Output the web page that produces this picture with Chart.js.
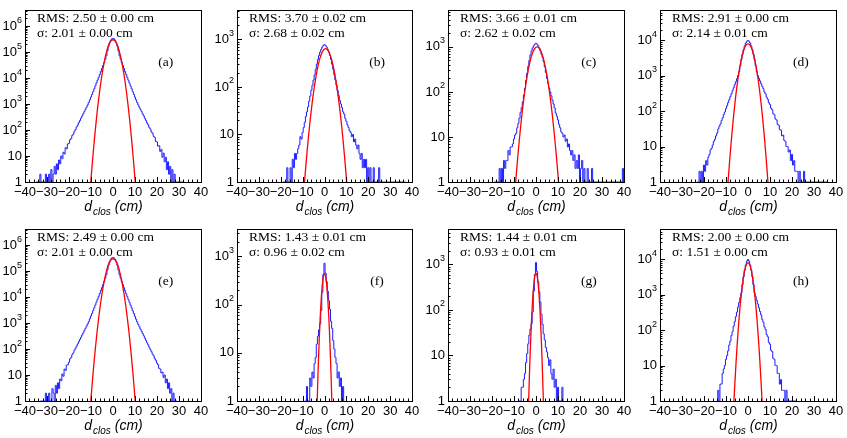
<!DOCTYPE html>
<html><head><meta charset="utf-8">
<script src="https://cdn.jsdelivr.net/npm/chart.js@4.4.1/dist/chart.umd.min.js"></script>
<style>
html,body{margin:0;padding:0;background:#fff;}
#wrap{position:relative;width:847px;height:438px;overflow:hidden;background:#fff;}
#wrap canvas{position:absolute;left:0;top:0;}
</style></head><body><div id="wrap"></div>
<script>
// ---------------- data ----------------
const panelLetters = ['(a)','(b)','(c)','(d)','(e)','(f)','(g)','(h)'];
const rmsTexts = ['RMS: 2.50 \u00b1 0.00 cm','RMS: 3.70 \u00b1 0.02 cm','RMS: 3.66 \u00b1 0.01 cm','RMS: 2.91 \u00b1 0.00 cm',
                  'RMS: 2.49 \u00b1 0.00 cm','RMS: 1.43 \u00b1 0.01 cm','RMS: 1.44 \u00b1 0.01 cm','RMS: 2.00 \u00b1 0.00 cm'];
const sigmaTexts = ['\u03c3: 2.01 \u00b1 0.00 cm','\u03c3: 2.68 \u00b1 0.02 cm','\u03c3: 2.62 \u00b1 0.02 cm','\u03c3: 2.14 \u00b1 0.01 cm',
                    '\u03c3: 2.01 \u00b1 0.00 cm','\u03c3: 0.96 \u00b1 0.02 cm','\u03c3: 0.93 \u00b1 0.01 cm','\u03c3: 1.51 \u00b1 0.00 cm'];
const xTickValues = [-40,-30,-20,-10,0,10,20,30,40];
const yMaxValues = [4.2e6, 4170, 6600, 7.1e4, 4.2e6, 3700, 6000, 7.1e4];
const BIN_WIDTH = 0.5;
const histStart = [-35, -19, -19, -23, -33, -9, -8, -14];

const histA = [
 1,0,1,0,2,0,1,1,0,2,
 1,0,2,1,3,1,2,4,2,5,
 3,7,5,10,8,14,12,21,19,29,
 31,42,47,62,70,90,105,132,156,195,
 232,287,345,424,511,626,757,935,1148,1462,
 1858,2372,3018,3892,5010,6460,8320,10700,13800,18000,
 23400,30500,39800,53700,72400,112000,170000,230000,285000,324000,
 339000,324000,285000,230000,170000,112000,72400,53700,39800,30500,
 23400,18000,13800,10700,8320,6460,5010,3890,3020,2370,
 1860,1460,1150,930,762,620,516,419,350,282,
 237,190,161,127,110,85,75,57,52,37,
 35,24,25,15,18,9,13,6,9,3,
 6,2,4,1,3,0,2,1,0,1,
 0,1,0,0,1];
const histB = [
 1,1,0,1,2,0,1,2,1,3,
 2,4,3,4,5,6,9,8,11,14,
 18,24,30,38,50,64,85,108,140,180,
 235,300,380,460,540,620,690,750,780,750,
 690,620,540,460,380,300,235,180,140,108,
 85,66,52,44,37,30,27,22,19,16,
 14,12,11,9,10,7,8,6,5,6,
 4,3,4,2,3,2,3,1,2,1,
 2,1,0,2,1,0,1,1,2,0,
 1,0,1,0,1,0,0,1,0,0,
 1,0,0,0,1,0,0,0,0,0,
 1,0,1];
const histC = [
 1,0,1,1,0,2,1,2,1,3,
 2,3,3,5,4,6,6,7,9,11,
 12,16,20,26,35,45,60,85,120,180,
 260,370,500,660,820,950,1060,1150,1200,1150,
 1060,950,820,690,590,470,360,270,200,155,
 122,100,82,66,54,44,34,29,24,19,
 16,13,12,10,11,8,9,6,7,5,
 4,5,3,4,2,3,2,4,1,2,
 3,1,2,1,0,2,1,0,1,2,
 0,1,0,1,0,0,1,0,0,0,
 0,1,0,0,0,0,0,0,1,0,
 0,0,0,0,1,0,1,2,1];
const histD = [
 1,0,2,1,2,1,3,2,4,3,
 5,6,8,9,11,14,16,20,24,31,
 37,43,54,64,80,94,117,140,173,208,
 255,308,377,456,557,675,822,1000,1300,1900,
 2800,4000,5400,6900,8300,9300,9800,9300,8300,6900,
 5400,4000,2800,1900,1300,1000,841,708,596,501,
 428,349,305,246,216,172,155,121,110,85,
 79,60,56,42,40,30,29,20,21,15,
 14,10,10,7,8,4,6,3,4,2,
 2,2,1,2,1,0,1,2,0,1,
 0,1,0,0,1,0,0,0,0,0,
 0,0,0,0,0,0,0,1,0];
const histE = [
 1,0,0,1,0,2,0,1,2,1,
 1,3,2,1,4,2,5,3,7,6,
 11,9,17,15,24,25,31,42,47,61,
 71,90,106,131,158,192,235,284,348,421,
 514,622,760,930,1152,1458,1862,2368,3022,3888,
 5010,6460,8320,10700,13800,18000,23400,30500,39800,53700,
 72400,112000,170000,230000,285000,324000,336000,322000,283000,228000,
 168000,111000,71800,53200,39400,30100,23100,17700,13600,10500,
 8180,6340,4900,3800,2940,2300,1800,1410,1110,890,
 728,592,488,398,326,265,218,176,146,118,
 97,80,64,55,43,37,29,25,18,17,
 12,13,8,10,5,7,3,5,2,3,
 1,2,0,1,1];
const histF = [
 1,0,2,0,1,3,2,4,3,6,
 8,15,22,30,40,75,180,420,720,450,
 300,190,120,80,45,32,18,12,8,6,
 3,4,2,3,1,2,1];
const histG = [
 1,1,0,2,2,3,4,7,11,18,
 28,38,50,90,260,600,1100,700,420,250,
 150,80,48,30,22,15,12,9,6,8,
 4,3,5,2,3,1,2,0,1,0,
 2,0];
const histH = [
 1,2,0,3,3,6,8,10,15,19,
 26,38,49,70,91,129,172,240,322,445,
 600,820,1120,1900,3200,4900,6900,8800,9800,8800,
 6900,4900,3200,1900,1120,881,692,543,427,335,
 268,201,166,122,104,75,65,45,40,27,
 25,16,15,10,10,6,6,3,4,2,
 2,2,1,2,0,1,0,0,0,0,
 0,1,0];

const fitStart = [-10.5, -10, -10, -10, -10.5, -3.75, -3.75, -7];
const fitStep  = [0.5, 0.5, 0.5, 0.5, 0.5, 0.25, 0.25, 0.5];
const fitA = [0.36,1.27,4.2,13.3,39.3,109,284,698,1609,3490,7100,13590,24480,41400,65900,98500,138400,182900,227000,265100,290900,
 300000,290900,265100,227000,182900,138400,98500,65900,41400,24480,13590,7100,3490,1609,698,284,109,39.3,13.3,4.2,1.27,0.36];
const fitB = [0.296,0.605,1.19,2.27,4.18,7.42,12.7,21.1,33.8,52.2,77.9,112,156,210,273,342,414,484,547,597,629,
 640,629,597,547,484,414,342,273,210,156,112,77.9,52.2,33.8,21.1,12.7,7.42,4.18,2.27,1.19,0.605,0.296];
const fitC = [0.32,0.687,1.40,2.74,5.19,9.46,16.6,28.2,46.1,72.6,110,162,229,312,410,519,634,747,849,930,982,
 1000,982,930,849,747,634,519,410,312,229,162,110,72.6,46.1,28.2,16.6,9.46,5.19,2.74,1.40,0.687,0.32];
const fitD = [0.143,0.416,1.14,2.96,7.28,17.0,37.5,78.4,155,291,516,866,1377,2074,2957,3993,5104,6179,7083,7687,
 7900,7687,7083,6179,5104,3993,2957,2074,1377,866,516,291,155,78.4,37.5,17.0,7.28,2.96,1.14,0.416,0.143];
const fitE = [0.36,1.27,4.2,13.3,39.3,109,284,698,1609,3490,7100,13590,24480,41400,65900,98500,138400,182900,227000,265100,290900,
 300000,290900,265100,227000,182900,138400,98500,65900,41400,24480,13590,7100,3490,1609,698,284,109,39.3,13.3,4.2,1.27,0.36];
const fitF = [0.21,0.571,1.43,3.33,7.26,14.8,28.2,50.2,83.5,130,188,256,324,384,425,
 440,425,384,324,256,188,130,83.5,50.2,28.2,14.8,7.26,3.33,1.43,0.571,0.21];
const fitG = [0.19,0.54,1.43,3.52,8.08,17.3,34.3,63.4,109,174,259,359,462,554,617,
 640,617,554,462,359,259,174,109,63.4,34.3,17.3,8.08,3.52,1.43,0.54,0.19];
const fitH = [0.17,0.749,2.95,10.4,32.9,93.1,236,538,1098,2007,3286,4823,6344,7479,
 7900,7479,6344,4823,3286,2007,1098,538,236,93.1,32.9,10.4,2.95,0.749,0.17];

const histograms = [histA,histB,histC,histD,histE,histF,histG,histH];
const fits = [fitA,fitB,fitC,fitD,fitE,fitF,fitG,fitH];

// ---------------- layout (pixels) ----------------
const W = 847, H = 438;
const frameLeft = [25, 237, 448, 660];
const frameRight = [201, 412, 624, 836];
const frameTop = [10, 229];
const frameBottom = [182, 401];
const X_MIN = -40, X_MAX = 40, X_MAJOR = 10, X_MINOR = 2, Y_MIN = 1;

const SANS = '"Liberation Sans", Arial, Helvetica, sans-serif';
const SERIF = '"Liberation Serif", "Times New Roman", Times, serif';

function drawDecor(chart, info) {
  const ctx = chart.ctx, a = chart.chartArea;
  const xs = chart.scales.x, ys = chart.scales.y;
  const L = Math.round(a.left), R = Math.round(a.right), T = Math.round(a.top), B = Math.round(a.bottom);
  ctx.save();
  ctx.strokeStyle = '#000'; ctx.lineWidth = 1;
  ctx.strokeRect(L + 0.5, T + 0.5, R - L, B - T);
  ctx.beginPath();
  for (let v = X_MIN; v <= X_MAX + 1e-9; v += X_MINOR) {
    const px = Math.round(xs.getPixelForValue(v)) + 0.5;
    const len = Math.abs(v % X_MAJOR) < 1e-9 ? 5 : 2.5;
    ctx.moveTo(px, B); ctx.lineTo(px, B - len);
  }
  const yMax = ys.max;
  for (let d = 0; Math.pow(10, d) <= yMax; d++) {
    for (let m = 1; m <= 9; m++) {
      const v = m * Math.pow(10, d);
      if (v > yMax) break;
      const py = Math.round(ys.getPixelForValue(v)) + 0.5;
      const len = m === 1 ? 5 : 2.5;
      ctx.moveTo(L, py); ctx.lineTo(L + len, py);
    }
  }
  ctx.stroke();

  ctx.fillStyle = '#000';
  ctx.font = '13px ' + SANS;
  ctx.textAlign = 'center'; ctx.textBaseline = 'top';
  xTickValues.forEach(v => {
    const s = v < 0 ? '\u2212' + (-v) : String(v);
    ctx.fillText(s, xs.getPixelForValue(v), B + 4);
  });
  ctx.textAlign = 'right'; ctx.textBaseline = 'middle';
  for (let d = 0; Math.pow(10, d) <= yMax; d++) {
    const py = ys.getPixelForValue(Math.pow(10, d));
    const xr = L - 3;
    if (d === 0) { ctx.font = '13px ' + SANS; ctx.fillText('1', xr, py); }
    else if (d === 1) { ctx.font = '13px ' + SANS; ctx.fillText('10', xr, py); }
    else {
      ctx.font = '9px ' + SANS;
      const sw = ctx.measureText(String(d)).width;
      ctx.fillText(String(d), xr, py - 6);
      ctx.font = '13px ' + SANS;
      ctx.fillText('10', xr - sw, py);
    }
  }
  ctx.textAlign = 'left'; ctx.textBaseline = 'alphabetic';
  ctx.font = 'italic 14px ' + SANS; const wd = ctx.measureText('d').width;
  ctx.font = 'italic 10px ' + SANS; const wc = ctx.measureText('clos').width;
  ctx.font = 'italic 14px ' + SANS; const wr = ctx.measureText(' (cm)').width;
  let x0 = (L + R) / 2 - (wd + wc + wr) / 2;
  const by = B + 28.5;
  ctx.font = 'italic 14px ' + SANS; ctx.fillText('d', x0, by);
  ctx.font = 'italic 10px ' + SANS; ctx.fillText('clos', x0 + wd + 1, by + 4);
  ctx.font = 'italic 14px ' + SANS; ctx.fillText(' (cm)', x0 + wd + wc + 1, by);
  ctx.font = '13.5px ' + SERIF;
  ctx.fillText(info.rms, L + 12, T + 11.5);
  ctx.fillText(info.sigma, L + 12, T + 26.5);
  ctx.textAlign = 'center';
  ctx.fillText(info.letter, L + 0.8 * (R - L), T + 56);
  ctx.restore();
}

const decorPlugin = {
  id: 'decor',
  afterDraw(chart, args, opts) { drawDecor(chart, opts.info); }
};

const wrap = document.getElementById('wrap');
for (let i = 0; i < 8; i++) {
  const col = i % 4, row = Math.floor(i / 4);
  const canvas = document.createElement('canvas');
  canvas.width = W; canvas.height = H;
  canvas.style.width = W + 'px'; canvas.style.height = H + 'px';
  wrap.appendChild(canvas);
  const histPts = histograms[i].map((c, k) => ({ x: histStart[i] + k * BIN_WIDTH, y: Math.max(c, Y_MIN) }));
  const fitPts = fits[i].map((v, k) => ({ x: fitStart[i] + k * fitStep[i], y: v }));
  new Chart(canvas, {
    type: 'line',
    data: {
      datasets: [
        { data: fitPts, borderColor: '#ff0000', borderWidth: 1.3, pointRadius: 0, fill: false,
          cubicInterpolationMode: 'monotone' },
        { data: histPts, borderColor: '#1a1aff', borderWidth: 1, pointRadius: 0, fill: false,
          stepped: 'middle' }
      ]
    },
    options: {
      responsive: false, animation: false, events: [],
      layout: { padding: { left: frameLeft[col], right: W - frameRight[col], top: frameTop[row], bottom: H - frameBottom[row] } },
      scales: {
        x: { type: 'linear', min: X_MIN, max: X_MAX, display: false },
        y: { type: 'logarithmic', min: Y_MIN, max: yMaxValues[i], display: false }
      },
      plugins: {
        legend: { display: false }, tooltip: { enabled: false },
        decor: { info: { rms: rmsTexts[i], sigma: sigmaTexts[i], letter: panelLetters[i] } }
      }
    },
    plugins: [decorPlugin]
  });
}
</script>
</body></html>
